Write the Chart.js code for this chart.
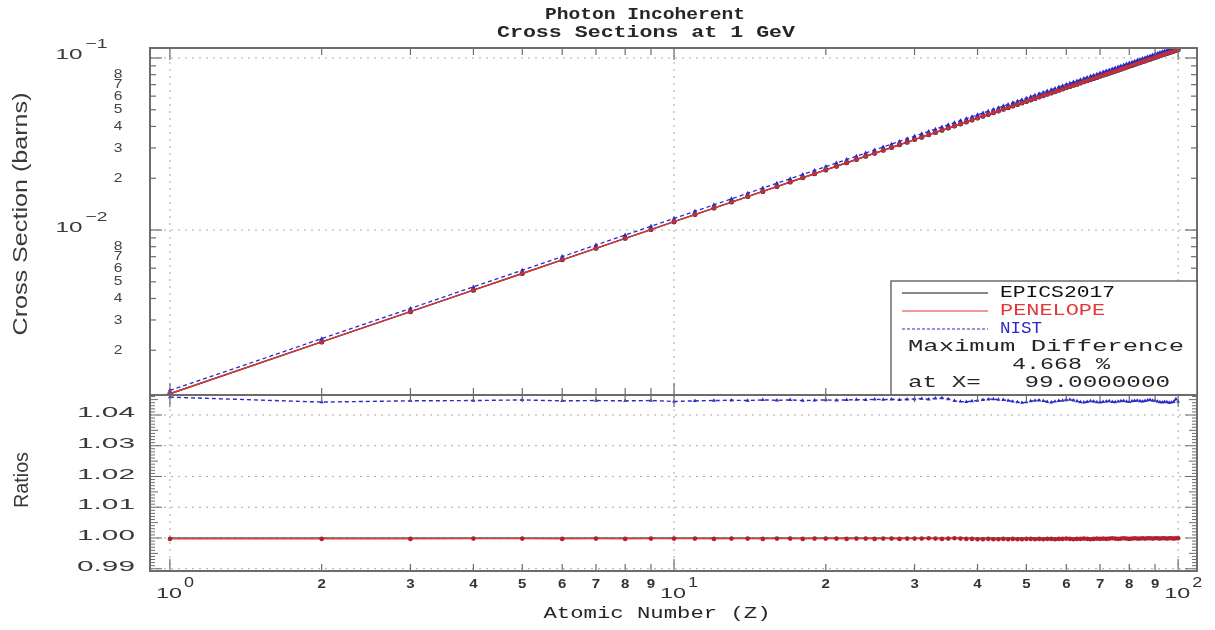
<!DOCTYPE html>
<html>
<head>
<meta charset="utf-8">
<script src="https://cdn.jsdelivr.net/npm/chart.js@4.4.1/dist/chart.umd.min.js"></script>
<style>
  html, body { margin: 0; padding: 0; background: #fff; }
  #wrap { position: relative; width: 1215px; height: 630px; }
  #wrap canvas { position: absolute; left: 0; top: 0; }
</style>
</head>
<body>
<div id="wrap">
  <canvas id="crossChart" width="1215" height="630"></canvas>
  <canvas id="ratioChart" width="1215" height="630"></canvas>
</div>
<script>
// ---- data ----
const atomicNumbers = [
  1,2,3,4,5,6,7,8,9,10,11,12,13,14,15,16,17,18,19,20,
  21,22,23,24,25,26,27,28,29,30,31,32,33,34,35,36,37,38,39,40,
  41,42,43,44,45,46,47,48,49,50,51,52,53,54,55,56,57,58,59,60,
  61,62,63,64,65,66,67,68,69,70,71,72,73,74,75,76,77,78,79,80,
  81,82,83,84,85,86,87,88,89,90,91,92,93,94,95,96,97,98,99,100
];

// EPICS2017 incoherent cross section (barns)
const epicsBarns = [
  0.001118,0.002236,0.003354,0.004472,0.005590,0.006708,0.007826,0.008944,0.01006,0.01118,
  0.01230,0.01342,0.01453,0.01565,0.01677,0.01789,0.01901,0.02012,0.02124,0.02236,
  0.02348,0.02460,0.02571,0.02683,0.02795,0.02907,0.03019,0.03130,0.03242,0.03354,
  0.03466,0.03578,0.03689,0.03801,0.03913,0.04025,0.04137,0.04248,0.04360,0.04472,
  0.04584,0.04696,0.04807,0.04919,0.05031,0.05143,0.05255,0.05366,0.05478,0.05590,
  0.05702,0.05814,0.05925,0.06037,0.06149,0.06261,0.06373,0.06484,0.06596,0.06708,
  0.06820,0.06932,0.07043,0.07155,0.07267,0.07379,0.07491,0.07602,0.07714,0.07826,
  0.07938,0.08050,0.08161,0.08273,0.08385,0.08497,0.08609,0.08720,0.08832,0.08944,
  0.09056,0.09168,0.09279,0.09391,0.09503,0.09615,0.09727,0.09838,0.09950,0.1006,
  0.1017,0.1029,0.1040,0.1051,0.1062,0.1073,0.1084,0.1096,0.1107,0.1118
];

// PENELOPE / EPICS2017
const penelopeRatio = [
  0.9997,0.9997,0.9997,0.9998,0.9998,0.9997,0.9998,0.9997,0.9998,0.9998,
  0.9998,0.9997,0.9998,0.9998,0.9997,0.9998,0.9998,0.9997,0.9998,0.9998,
  0.9998,0.9997,0.9998,0.9998,0.9997,0.9998,0.9998,0.9997,0.9998,0.9998,
  0.9998,0.9999,0.9998,0.9997,0.9998,0.9999,0.9998,0.9997,0.9997,0.9996,
  0.9996,0.9997,0.9996,0.9996,0.9997,0.9996,0.9997,0.9996,0.9996,0.9997,
  0.9997,0.9996,0.9997,0.9996,0.9997,0.9997,0.9996,0.9997,0.9997,0.9998,
  0.9997,0.9996,0.9997,0.9997,0.9998,0.9997,0.9996,0.9997,0.9998,0.9997,
  0.9998,0.9997,0.9998,0.9999,0.9998,0.9997,0.9998,0.9999,0.9998,0.9997,
  0.9998,0.9999,0.9998,0.9998,0.9999,0.9998,0.9999,0.9999,0.9998,0.9999,
  0.9999,0.9998,0.9999,0.9999,0.9998,0.9999,0.9999,0.9998,0.9999,0.9999
];

// NIST / EPICS2017
const nistRatio = [
  1.0458,1.0442,1.0446,1.0447,1.0449,1.0446,1.0447,1.0446,1.0447,1.0444,
  1.0446,1.0447,1.0448,1.0447,1.0449,1.0448,1.0449,1.0447,1.0448,1.0449,
  1.0448,1.0449,1.0450,1.0449,1.0451,1.0450,1.0451,1.0449,1.0451,1.0452,
  1.0453,1.0451,1.0454,1.0455,1.0452,1.0446,1.0444,1.0443,1.0445,1.0447,
  1.0449,1.0451,1.0452,1.0450,1.0449,1.0447,1.0444,1.0442,1.0440,1.0442,
  1.0445,1.0447,1.0448,1.0446,1.0443,1.0441,1.0444,1.0446,1.0447,1.0449,
  1.0450,1.0448,1.0445,1.0442,1.0441,1.0443,1.0445,1.0444,1.0442,1.0441,
  1.0443,1.0444,1.0445,1.0443,1.0442,1.0444,1.0445,1.0446,1.0444,1.0443,
  1.0445,1.0446,1.0447,1.0445,1.0444,1.0446,1.0448,1.0449,1.0447,1.0446,
  1.0444,1.0442,1.0441,1.0443,1.0442,1.0440,1.0441,1.0443,1.0452,1.0444
];

const xTickValues = [1,2,3,4,5,6,7,8,9,10,20,30,40,50,60,70,80,90,100];
const xDecades = [1, 10, 100];
const yDecades = [0.001, 0.01, 0.1];
const ratioLabels = [1.04, 1.03, 1.02, 1.01, 1.00, 0.99];
const legendNames = ['EPICS2017', 'PENELOPE', 'NIST'];
const maxDiffText = ['Maximum Difference', '4.668 %', 'at X=   99.0000000'];

// derived tables for the library
const penelopeBarns = epicsBarns.map((v, i) => v * penelopeRatio[i]);
const nistBarns = epicsBarns.map((v, i) => v * nistRatio[i]);
const epicsRatio = epicsBarns.map(() => 1);
const pts = arr => atomicNumbers.map((z, i) => ({ x: z, y: arr[i] }));

const RED = '#e0393b', BLUE = '#2a2ac8', FRAME = '#6c6c6c', GRID = '#a8a8a8';
const MONO = '"Liberation Mono", monospace', SANS = '"Liberation Sans", Arial, sans-serif';
const INK = '#262626';

// ---- text helpers (the original plot is stretched sideways) ----
function sText(ctx, txt, x, y, sx, font, color, align) {
  ctx.save();
  ctx.font = font; ctx.fillStyle = color; ctx.textBaseline = 'middle';
  const w = ctx.measureText(txt).width * sx;
  const x0 = align === 'center' ? x - w / 2 : align === 'right' ? x - w : x;
  ctx.translate(x0, y); ctx.scale(sx, 1);
  ctx.textAlign = 'left'; ctx.fillText(txt, 0, 0);
  ctx.restore();
  return w;
}
function wText(ctx, txt, x, y, width, font, color, align) {
  ctx.save(); ctx.font = font;
  const sx = width / ctx.measureText(txt).width;
  ctx.restore();
  return sText(ctx, txt, x, y, sx, font, color, align);
}
function vText(ctx, txt, cx, cy, len, thick, font, color) {
  ctx.save();
  ctx.font = font; ctx.fillStyle = color;
  const m = ctx.measureText(txt).width;
  ctx.translate(cx, cy); ctx.rotate(-Math.PI / 2); ctx.scale(len / m, thick);
  ctx.textAlign = 'center'; ctx.textBaseline = 'middle';
  ctx.fillText(txt, 0, 0);
  ctx.restore();
}
function powLabel(ctx, exp, cx, cy, tenW, supW, supDy) {
  wText(ctx, '10', cx, cy, tenW, '15px ' + SANS, '#3a3a3a', 'center');
  wText(ctx, exp, cx + tenW / 2 + 3, cy + supDy, supW, '13px ' + SANS, '#3a3a3a', 'left');
}
function dotted(ctx, x1, y1, x2, y2) {
  ctx.save(); ctx.strokeStyle = GRID; ctx.lineWidth = 1; ctx.setLineDash([2, 5]);
  ctx.beginPath(); ctx.moveTo(x1, y1); ctx.lineTo(x2, y2); ctx.stroke(); ctx.restore();
}
function tick(ctx, x1, y1, x2, y2) {
  ctx.beginPath(); ctx.moveTo(x1, y1); ctx.lineTo(x2, y2); ctx.stroke();
}
function xTicks(ctx, sx, a) {
  ctx.save(); ctx.strokeStyle = FRAME; ctx.lineWidth = 1.2;
  xTickValues.forEach(v => {
    const px = sx.getPixelForValue(v);
    const len = xDecades.includes(v) ? 12 : 7;
    tick(ctx, px, a.top, px, a.top + len);
    tick(ctx, px, a.bottom, px, a.bottom - len);
  });
  ctx.restore();
}
function frame(ctx, a) {
  ctx.save(); ctx.strokeStyle = FRAME; ctx.lineWidth = 2;
  ctx.strokeRect(a.left, a.top, a.right - a.left, a.bottom - a.top);
  ctx.restore();
}

// ---- upper panel decorations ----
const crossDecor = {
  id: 'crossDecor',
  beforeDatasetsDraw(chart) {
    const { ctx, chartArea: a, scales: { x, y } } = chart;
    yDecades.forEach(d => {
      if (d < y.min) return;
      const py = y.getPixelForValue(d);
      dotted(ctx, a.left, py, a.right, py);
    });
    xDecades.forEach(d => {
      const px = x.getPixelForValue(d);
      dotted(ctx, px, a.top, px, a.bottom);
    });
  },
  afterDraw(chart) {
    const { ctx, chartArea: a, scales: { x, y } } = chart;
    frame(ctx, a);
    xTicks(ctx, x, a);
    ctx.save(); ctx.strokeStyle = FRAME; ctx.lineWidth = 1.2;
    yDecades.forEach(d => {
      for (let m = 1; m <= 9; m++) {
        const v = m * d;
        if (v < y.min || v > y.max) continue;
        const py = y.getPixelForValue(v);
        const len = m === 1 ? 12 : 6;
        tick(ctx, a.left, py, a.left + len, py);
        tick(ctx, a.right, py, a.right - len, py);
        if (m >= 2 && m <= 8) sText(ctx, String(m), 118, py, 1.2, '13px ' + SANS, '#444', 'center');
      }
    });
    ctx.restore();
    powLabel(ctx, '\u22121', 69, y.getPixelForValue(0.1) - 3, 27, 22, -11);
    powLabel(ctx, '\u22122', 69, y.getPixelForValue(0.01) - 2, 27, 22, -11);

    // titles
    wText(ctx, 'Photon Incoherent', 645, 15, 200, 'bold 16px ' + MONO, INK, 'center');
    wText(ctx, 'Cross Sections at 1 GeV', 646, 33, 298, 'bold 16px ' + MONO, INK, 'center');
    vText(ctx, 'Cross Section (barns)', 21, 214, 243, 1.4, '15px ' + SANS, '#3a3a3a');

    // legend box
    const bx = 891, by = 281, bw = a.right - 891, bh = a.bottom - 281;
    ctx.save();
    ctx.fillStyle = '#fff'; ctx.fillRect(bx, by, bw, bh);
    ctx.strokeStyle = '#555'; ctx.lineWidth = 1.3; ctx.strokeRect(bx, by, bw, bh);
    const cols = ['#111', RED, BLUE];
    [293, 311, 329].forEach((ly, i) => {
      ctx.strokeStyle = cols[i]; ctx.lineWidth = 1.2;
      ctx.setLineDash(i === 2 ? [3, 2] : []);
      tick(ctx, 902, ly, 988, ly);
      wText(ctx, legendNames[i], 1000, ly, [115, 105, 42][i], '16px ' + MONO, cols[i], 'left');
    });
    ctx.restore();
    wText(ctx, maxDiffText[0], 908, 347, 276, '16px ' + MONO, INK, 'left');
    wText(ctx, maxDiffText[1], 1012, 365, 98, '16px ' + MONO, INK, 'left');
    wText(ctx, maxDiffText[2], 908, 383, 262, '16px ' + MONO, INK, 'left');
  }
};

// ---- lower panel decorations ----
const ratioDecor = {
  id: 'ratioDecor',
  beforeDatasetsDraw(chart) {
    const { ctx, chartArea: a, scales: { x, y } } = chart;
    ratioLabels.forEach(v => {
      const py = y.getPixelForValue(v);
      dotted(ctx, a.left, py, a.right, py);
    });
    xDecades.forEach(d => {
      const px = x.getPixelForValue(d);
      dotted(ctx, px, a.top, px, a.bottom);
    });
  },
  afterDraw(chart) {
    const { ctx, chartArea: a, scales: { x, y } } = chart;
    frame(ctx, a);
    xTicks(ctx, x, a);
    ctx.save(); ctx.strokeStyle = FRAME; ctx.lineWidth = 1;
    for (let k = 989; k <= 1046; k++) {
      const py = y.getPixelForValue(k / 1000);
      if (py < a.top || py > a.bottom) continue;
      const len = k % 10 === 0 ? 12 : k % 5 === 0 ? 8 : 5;
      tick(ctx, a.left, py, a.left + len, py);
      tick(ctx, a.right, py, a.right - len, py);
    }
    ctx.restore();
    ratioLabels.forEach(v => {
      wText(ctx, v.toFixed(2), 135, y.getPixelForValue(v) - 2, 58, '15px ' + SANS, '#3a3a3a', 'right');
    });
    // x labels
    xTickValues.forEach(v => {
      const px = x.getPixelForValue(v);
      if (xDecades.includes(v)) return;
      const m = String(v)[0];
      sText(ctx, m, px, 585, 1.25, 'bold 12px ' + SANS, '#333', 'center');
    });
    xDecades.forEach((d, i) => {
      const px = x.getPixelForValue(d);
      wText(ctx, '10', px - 1, 594, 26, '15px ' + SANS, '#333', 'center');
      wText(ctx, String(i), px + 14, 583, 10, '14px ' + SANS, '#333', 'left');
    });
    wText(ctx, 'Atomic Number (Z)', 657, 614, 227, '16px ' + MONO, INK, 'center');
    vText(ctx, 'Ratios', 22, 480, 56, 1.45, '14px ' + SANS, '#3a3a3a');
  }
};

const xScale = { type: 'logarithmic', min: 0.913, max: 109, display: false };

new Chart(document.getElementById('crossChart'), {
  type: 'line',
  data: {
    datasets: [
      { label: 'EPICS2017', data: pts(epicsBarns), order: 3, borderColor: '#111', borderWidth: 1.4,
        pointRadius: 2.5, pointBackgroundColor: '#1a1a40', pointBorderWidth: 0 },
      { label: 'PENELOPE', data: pts(penelopeBarns), order: 1, borderColor: RED, borderWidth: 1.4,
        pointRadius: 2.2, pointBackgroundColor: '#c0303a', pointBorderWidth: 0 },
      { label: 'NIST', data: pts(nistBarns), order: 2, borderColor: BLUE, borderWidth: 1.3, borderDash: [4, 3],
        pointRadius: 2.5, pointStyle: 'triangle', pointBackgroundColor: BLUE, pointBorderWidth: 0 }
    ]
  },
  options: {
    responsive: false, animation: false, devicePixelRatio: 1,
    layout: { padding: { left: 150, right: 18, top: 48, bottom: 235 } },
    plugins: { legend: { display: false }, tooltip: { enabled: false } },
    scales: { x: xScale, y: { type: 'logarithmic', min: 0.001099, max: 0.1143, display: false } }
  },
  plugins: [crossDecor]
});

new Chart(document.getElementById('ratioChart'), {
  type: 'line',
  data: {
    datasets: [
      { label: 'EPICS2017', data: pts(epicsRatio), order: 3, borderColor: '#111', borderWidth: 1.2, pointRadius: 0 },
      { label: 'PENELOPE', data: pts(penelopeRatio), order: 1, borderColor: RED, borderWidth: 1.4,
        pointRadius: 2.3, pointBackgroundColor: '#b02030', pointBorderWidth: 0 },
      { label: 'NIST', data: pts(nistRatio), order: 2, borderColor: BLUE, borderWidth: 1.4, borderDash: [4, 3],
        pointRadius: 2.3, pointStyle: 'triangle', pointBackgroundColor: BLUE, pointBorderWidth: 0 }
    ]
  },
  options: {
    responsive: false, animation: false, devicePixelRatio: 1,
    layout: { padding: { left: 150, right: 18, top: 395, bottom: 59 } },
    plugins: { legend: { display: false }, tooltip: { enabled: false } },
    scales: { x: xScale, y: { type: 'linear', min: 0.98927, max: 1.0465, display: false } }
  },
  plugins: [ratioDecor]
});
</script>
</body>
</html>
